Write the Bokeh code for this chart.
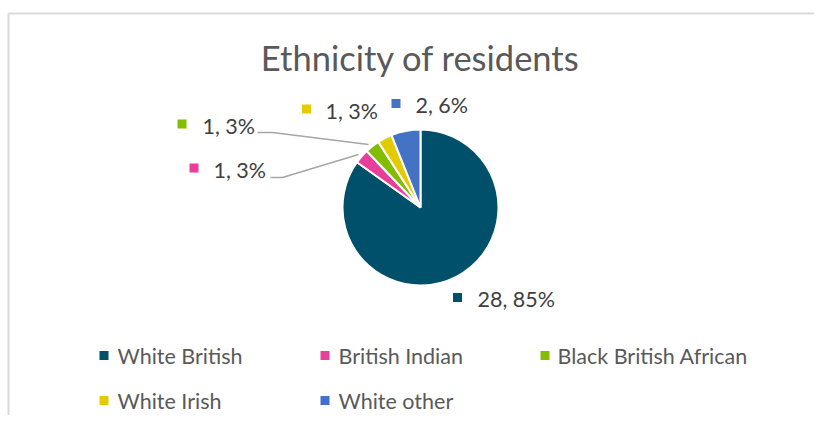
import math
from bokeh.plotting import figure
from bokeh.models import Range1d, ColumnDataSource
from bokeh.core.properties import value
from bokeh.embed import file_html
from bokeh.resources import INLINE

# ---- data ----
title_text = "Ethnicity of residents"
categories = ["White British", "British Indian", "Black British African", "White Irish", "White other"]
counts = [28, 1, 1, 1, 2]
colors = ["#00506B", "#E8409A", "#84BD00", "#E2CC00", "#4472C4"]

total = sum(counts)
pct_labels = [f"{c}, {round(100 * c / total)}%" for c in counts]

W, H = 814, 415
FONT = value("Lato")

def sx(x):
    return x

def sy(y):
    return H - y

p = figure(width=W, height=H, x_range=Range1d(0, W), y_range=Range1d(0, H),
           output_backend="svg", toolbar_location=None, min_border=0)
p.axis.visible = False
p.grid.visible = False
p.outline_line_color = None
p.background_fill_color = "white"
p.border_fill_color = "white"

# chart frame (top and left edges visible)
p.segment(x0=[sx(8), sx(8)], y0=[sy(13), sy(13)], x1=[sx(830), sx(8)], y1=[sy(13), sy(430)],
          line_color="#D9D9D9", line_width=2)

# ---- pie ----
cx, cy, r = sx(420), sy(207), 78
starts, ends = [], []
acc = 0
for c in counts:
    starts.append(math.pi / 2 - 2 * math.pi * acc / total)
    acc += c
    ends.append(math.pi / 2 - 2 * math.pi * acc / total)
src = ColumnDataSource(dict(start=starts, end=ends, color=colors, cat=categories))
p.wedge(x=cx, y=cy, radius=r, start_angle="start", end_angle="end", direction="clock",
        fill_color="color", line_color="white", line_width=2, source=src)

# ---- data labels (layout positions) ----
lab_marker_x = [457, 193.5, 181.5, 306, 395.5]
lab_marker_y = [297, 167.5, 123.5, 108.5, 103]
lab_text_x = [477, 213, 202, 325, 415]
lab_text_y = [298, 169, 125, 110, 104]
p.scatter(x=[sx(v) for v in lab_marker_x], y=[sy(v) for v in lab_marker_y], marker="square",
          size=9, fill_color=colors, line_color=None)
p.text(x=[sx(v) for v in lab_text_x], y=[sy(v) for v in lab_text_y], text=pct_labels,
       text_font=FONT, text_font_size="21.5px", text_color="#404040",
       text_baseline="middle", text_align="left")

# leader lines for the two small slices
p.line(x=[sx(257), sx(272), sx(368)], y=[sy(132), sy(132), sy(144)], line_color="#A6A6A6", line_width=1.5)
p.line(x=[sx(270), sx(282), sx(358)], y=[sy(177), sy(177), sy(154)], line_color="#A6A6A6", line_width=1.5)

# ---- title ----
p.text(x=[sx(420)], y=[sy(57)], text=[title_text], text_font=FONT, text_font_size="34.5px",
       text_color="#595959", text_align="center", text_baseline="middle")

# ---- legend (manual) ----
leg_mx = [103.5, 324.5, 544.5, 103.5, 324.5]
leg_my = [355, 355, 355, 400, 400]
leg_tx = [117, 338, 557, 117, 338]
p.scatter(x=[sx(v) for v in leg_mx], y=[sy(v) for v in leg_my], marker="square", size=9,
          fill_color=colors, line_color=None)
p.text(x=[sx(v) for v in leg_tx], y=[sy(v) for v in leg_my], text=categories,
       text_font=FONT, text_font_size="21.5px", text_color="#595959",
       text_baseline="middle", text_align="left")

open("out.html", "w").write(file_html(p, INLINE))
